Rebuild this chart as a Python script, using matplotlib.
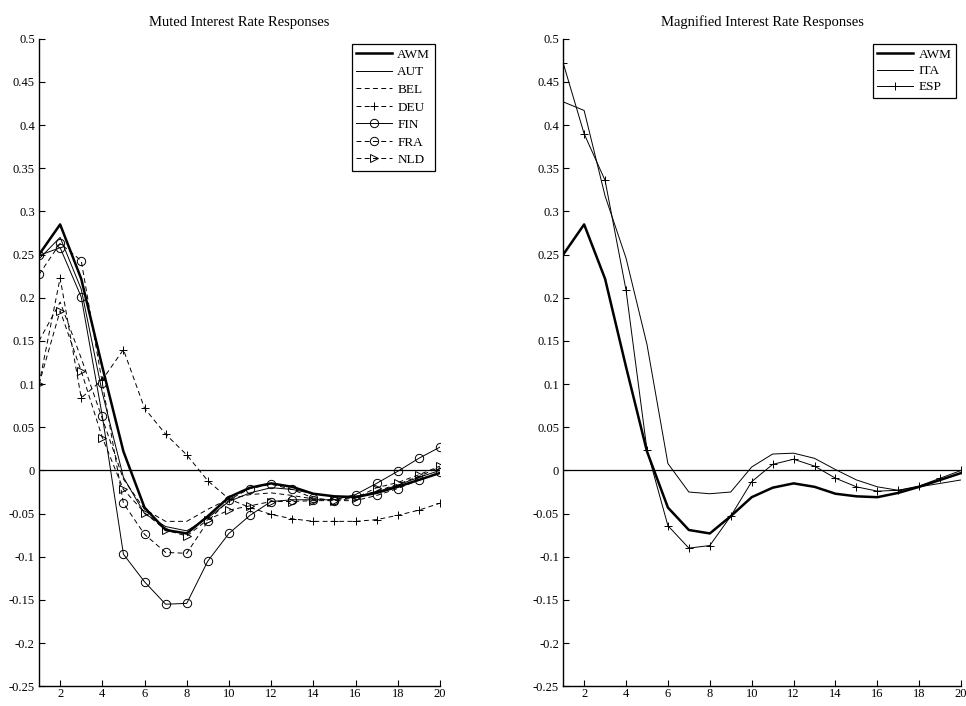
import matplotlib
matplotlib.use("Agg")
import matplotlib.pyplot as plt

# ==========================================================
# Data
# ==========================================================

horizon = list(range(1, 21))

awm = [0.250, 0.285, 0.222, 0.120, 0.022, -0.043, -0.069, -0.073, -0.053, -0.031,
       -0.020, -0.015, -0.019, -0.027, -0.030, -0.031, -0.026, -0.019, -0.011, -0.003]

# muted group
aut = [0.245, 0.270, 0.210, 0.090, -0.008, -0.050, -0.065, -0.070, -0.055, -0.036,
       -0.026, -0.020, -0.022, -0.027, -0.030, -0.030, -0.025, -0.017, -0.008, 0.000]
bel = [0.150, 0.195, 0.130, 0.060, -0.010, -0.045, -0.059, -0.059, -0.045, -0.033,
       -0.028, -0.026, -0.029, -0.033, -0.034, -0.031, -0.024, -0.016, -0.007, 0.004]
deu = [0.100, 0.223, 0.084, 0.105, 0.140, 0.072, 0.042, 0.018, -0.012, -0.033,
       -0.043, -0.051, -0.056, -0.059, -0.059, -0.059, -0.057, -0.052, -0.046, -0.038]
fin = [0.249, 0.258, 0.201, 0.063, -0.097, -0.129, -0.155, -0.154, -0.105, -0.073,
       -0.052, -0.036, -0.034, -0.034, -0.034, -0.028, -0.015, -0.001, 0.014, 0.027]
fra = [0.227, 0.263, 0.243, 0.101, -0.038, -0.074, -0.095, -0.096, -0.059, -0.034,
       -0.021, -0.016, -0.022, -0.032, -0.035, -0.035, -0.029, -0.021, -0.011, -0.002]
nld = [0.100, 0.185, 0.115, 0.038, -0.022, -0.049, -0.069, -0.076, -0.057, -0.046,
       -0.041, -0.036, -0.036, -0.035, -0.035, -0.032, -0.020, -0.014, -0.005, 0.005]

# magnified group
ita = [0.427, 0.417, 0.318, 0.246, 0.146, 0.008, -0.025, -0.027, -0.025, 0.004,
       0.019, 0.020, 0.014, 0.001, -0.011, -0.019, -0.023, -0.019, -0.015, -0.011]
esp = [0.472, 0.390, 0.336, 0.209, 0.024, -0.064, -0.090, -0.087, -0.053, -0.013,
       0.007, 0.013, 0.005, -0.009, -0.019, -0.024, -0.023, -0.018, -0.009, 0.000]

y_ticks = [-0.25, -0.2, -0.15, -0.1, -0.05, 0, 0.05, 0.1, 0.15, 0.2, 0.25, 0.3, 0.35, 0.4, 0.45, 0.5]
x_ticks = list(range(2, 21, 2))

# ==========================================================
# Style
# ==========================================================

plt.rcParams["font.family"] = ["Liberation Serif", "DejaVu Serif"]
plt.rcParams["axes.unicode_minus"] = False

DASH = (0, (5, 3.5))


def style_axes(ax, title):
    ax.set_xlim(1, 20)
    ax.set_ylim(-0.25, 0.5)
    ax.set_xticks(x_ticks)
    ax.set_yticks(y_ticks)
    ax.set_yticklabels([f"{v:g}" for v in y_ticks])
    ax.spines["top"].set_visible(False)
    ax.spines["right"].set_visible(False)
    ax.spines["left"].set_linewidth(1.0)
    ax.spines["bottom"].set_linewidth(1.0)
    ax.tick_params(direction="in", length=4, width=0.8, labelsize=9, pad=3)
    ax.tick_params(axis="x", pad=1.5)
    ax.axhline(0, color="black", lw=0.9, zorder=1)
    ax.set_title(title, fontsize=10.5, pad=9)


def add_legend(ax, spacing):
    leg = ax.legend(loc="upper right", fontsize=9.5, handlelength=2.7, handletextpad=0.4,
                    labelspacing=spacing, borderpad=0.35, fancybox=False, framealpha=1,
                    borderaxespad=0.4)
    leg.get_frame().set_edgecolor("black")
    leg.get_frame().set_linewidth(0.9)


# ==========================================================
# Figure
# ==========================================================

fig = plt.figure(figsize=(9.66, 7.06), dpi=100)
ax_l = fig.add_axes([0.0404, 0.028, 0.415, 0.917])
ax_r = fig.add_axes([0.583, 0.028, 0.412, 0.917])

mk = dict(markersize=6, markerfacecolor="none", markeredgecolor="black", markeredgewidth=0.7)

ax_l.plot(horizon, awm, color="black", lw=1.8, label="AWM", zorder=5)
ax_l.plot(horizon, aut, color="black", lw=0.7, label="AUT")
ax_l.plot(horizon, bel, color="black", lw=0.7, ls=DASH, label="BEL")
ax_l.plot(horizon, deu, color="black", lw=0.7, ls=DASH, marker="+", label="DEU", **mk)
ax_l.plot(horizon, fin, color="black", lw=0.7, marker="o", label="FIN", **mk)
ax_l.plot(horizon, fra, color="black", lw=0.7, ls=DASH, marker="o", label="FRA", **mk)
ax_l.plot(horizon, nld, color="black", lw=0.7, ls=DASH, marker=">", label="NLD", **mk)
style_axes(ax_l, "Muted Interest Rate Responses")
add_legend(ax_l, 0.4)

ax_r.plot(horizon, awm, color="black", lw=1.8, label="AWM", zorder=5)
ax_r.plot(horizon, ita, color="black", lw=0.7, label="ITA")
ax_r.plot(horizon, esp, color="black", lw=0.7, marker="+", label="ESP", **mk)
style_axes(ax_r, "Magnified Interest Rate Responses")
add_legend(ax_r, 0.3)

fig.savefig("out.png", dpi=100)
